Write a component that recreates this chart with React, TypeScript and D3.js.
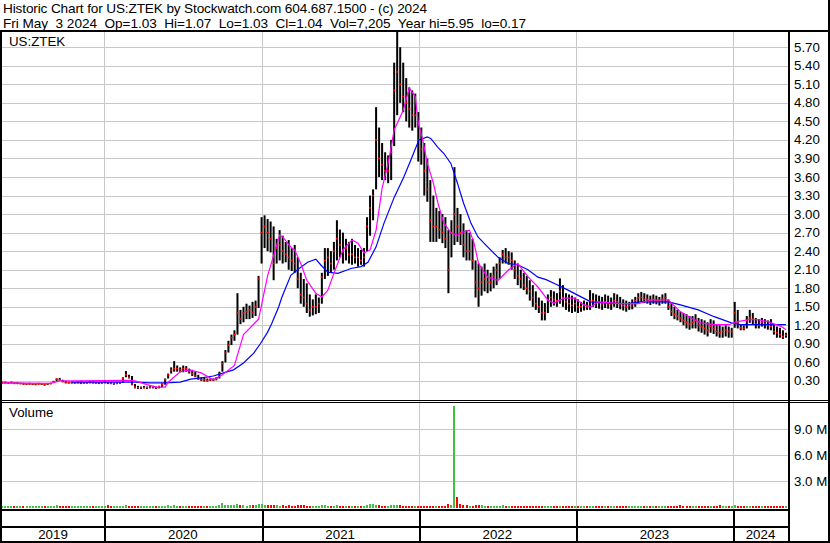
import React from 'react';
import * as d3 from 'd3';

const W = 830;
const H = 543;

// weekly bars, first week ending 2019-05-10, last 2024-05-03
const firstWeek = '2019-05-10';

const priceHigh = [
  0.29,0.29,0.28,0.29,0.28,0.28,0.27,0.27,0.26,0.27,
  0.26,0.26,0.27,0.26,0.25,0.26,0.27,0.30,0.34,0.35,
  0.32,0.30,0.29,0.29,0.28,0.29,0.29,0.28,0.28,0.29,
  0.29,0.28,0.28,0.28,0.29,0.28,0.28,0.27,0.28,0.28,
  0.36,0.46,0.40,0.38,0.25,0.22,0.21,0.22,0.21,0.22,
  0.22,0.21,0.22,0.26,0.34,0.42,0.52,0.62,0.55,0.52,
  0.55,0.54,0.50,0.48,0.45,0.40,0.36,0.35,0.34,0.34,
  0.34,0.36,0.45,0.62,0.80,0.95,1.05,1.12,1.72,1.45,
  1.50,1.55,1.52,1.58,1.60,2.00,2.95,2.98,2.92,2.88,
  2.80,2.60,2.74,2.65,2.55,2.58,2.45,2.50,2.30,2.05,
  1.95,1.88,1.70,1.62,1.70,1.65,2.05,2.45,2.45,2.40,
  2.55,2.90,2.75,2.70,2.60,2.55,2.60,2.50,2.45,2.42,
  2.45,2.95,3.30,3.40,4.73,4.40,4.15,4.00,3.95,4.20,
  5.45,5.95,5.70,5.45,5.20,5.05,5.00,4.95,4.65,4.40,
  4.15,3.90,3.55,3.30,3.10,3.05,3.00,2.95,2.74,2.90,
  3.76,3.10,3.00,2.85,2.74,2.70,2.60,2.25,2.20,2.15,
  2.20,2.10,2.05,2.15,2.20,2.30,2.42,2.45,2.40,2.38,
  2.25,2.20,2.10,2.05,2.00,1.93,1.85,1.75,1.65,1.60,
  1.56,1.70,1.77,1.75,1.72,1.96,1.85,1.72,1.70,1.68,
  1.65,1.62,1.58,1.60,1.58,1.77,1.72,1.70,1.68,1.66,
  1.70,1.68,1.65,1.72,1.70,1.66,1.62,1.60,1.58,1.62,
  1.66,1.72,1.74,1.72,1.70,1.68,1.70,1.68,1.66,1.70,
  1.72,1.62,1.56,1.50,1.45,1.42,1.40,1.38,1.35,1.35,
  1.38,1.32,1.30,1.28,1.25,1.30,1.28,1.22,1.20,1.18,
  1.20,1.18,1.16,1.58,1.45,1.22,1.20,1.35,1.45,1.40,
  1.32,1.30,1.32,1.30,1.28,1.30,1.22,1.18,1.16,1.12,1.08,
];

const priceLow = [
  0.26,0.26,0.26,0.26,0.25,0.25,0.25,0.24,0.24,0.24,
  0.24,0.23,0.24,0.24,0.23,0.24,0.25,0.27,0.30,0.31,
  0.28,0.26,0.26,0.26,0.26,0.26,0.25,0.26,0.26,0.26,
  0.26,0.26,0.25,0.26,0.26,0.25,0.25,0.24,0.25,0.26,
  0.27,0.36,0.34,0.23,0.18,0.17,0.17,0.18,0.17,0.18,
  0.18,0.17,0.18,0.20,0.24,0.34,0.42,0.45,0.45,0.44,
  0.44,0.45,0.42,0.38,0.36,0.32,0.30,0.29,0.29,0.30,
  0.30,0.31,0.34,0.45,0.60,0.76,0.88,0.95,1.05,1.22,
  1.25,1.30,1.30,1.32,1.35,1.48,2.20,2.45,2.40,2.38,
  1.93,2.20,2.25,2.20,2.22,2.10,2.08,2.05,1.80,1.55,
  1.50,1.40,1.34,1.36,1.38,1.40,1.55,1.95,2.00,2.05,
  2.10,2.25,2.30,2.20,2.25,2.20,2.18,2.20,2.15,2.18,
  2.15,2.40,2.65,2.90,3.40,3.60,3.55,3.55,3.50,3.55,
  4.10,4.60,4.80,4.65,4.50,4.40,4.35,4.40,3.85,3.80,
  3.30,3.20,2.55,2.55,2.55,2.60,2.53,2.45,1.72,2.30,
  2.50,2.55,2.50,2.30,2.25,2.25,2.10,1.65,1.50,1.68,
  1.75,1.72,1.75,1.80,1.85,1.95,2.20,2.20,2.18,2.10,
  1.95,1.85,1.80,1.77,1.70,1.60,1.50,1.45,1.40,1.28,
  1.28,1.40,1.50,1.52,1.50,1.55,1.50,1.45,1.42,1.40,
  1.42,1.40,1.42,1.44,1.45,1.45,1.50,1.48,1.47,1.45,
  1.48,1.47,1.45,1.50,1.48,1.46,1.44,1.42,1.45,1.46,
  1.50,1.55,1.58,1.56,1.55,1.53,1.55,1.54,1.52,1.55,
  1.55,1.45,1.35,1.30,1.28,1.25,1.20,1.15,1.13,1.15,
  1.15,1.10,1.08,1.05,1.02,1.08,1.06,1.02,1.00,1.00,
  1.02,1.00,1.00,1.16,1.15,1.12,1.12,1.15,1.24,1.22,
  1.15,1.15,1.18,1.15,1.13,1.12,1.05,1.00,1.00,0.98,1.00,
];

const priceClose = [
  0.27,0.27,0.27,0.27,0.26,0.26,0.26,0.25,0.25,0.25,
  0.25,0.25,0.25,0.25,0.24,0.25,0.26,0.29,0.33,0.32,
  0.29,0.28,0.27,0.27,0.27,0.27,0.27,0.27,0.27,0.28,
  0.27,0.27,0.27,0.27,0.28,0.27,0.26,0.26,0.26,0.27,
  0.34,0.40,0.36,0.25,0.20,0.19,0.19,0.19,0.19,0.20,
  0.20,0.19,0.21,0.24,0.32,0.40,0.48,0.50,0.50,0.48,
  0.50,0.50,0.45,0.42,0.38,0.34,0.32,0.32,0.31,0.32,
  0.32,0.34,0.42,0.58,0.75,0.88,1.00,1.05,1.40,1.30,
  1.40,1.42,1.45,1.40,1.50,1.95,2.70,2.80,2.70,2.60,
  2.20,2.45,2.50,2.40,2.35,2.30,2.25,2.20,1.95,1.70,
  1.65,1.55,1.45,1.50,1.50,1.55,1.98,2.25,2.30,2.20,
  2.40,2.60,2.50,2.40,2.45,2.35,2.35,2.30,2.30,2.25,
  2.30,2.80,3.10,3.30,4.20,3.90,3.80,3.70,3.70,4.00,
  5.00,5.30,5.10,4.90,4.80,4.70,4.60,4.60,4.20,4.05,
  3.70,3.40,2.90,2.80,2.80,2.75,2.70,2.60,2.10,2.70,
  3.00,2.80,2.70,2.50,2.40,2.40,2.25,1.90,1.80,1.90,
  1.95,1.90,1.90,2.00,2.10,2.20,2.35,2.30,2.30,2.25,
  2.10,2.00,1.95,1.85,1.80,1.75,1.65,1.55,1.50,1.40,
  1.40,1.60,1.65,1.62,1.60,1.75,1.65,1.58,1.55,1.52,
  1.55,1.50,1.50,1.52,1.50,1.60,1.60,1.58,1.57,1.55,
  1.58,1.55,1.55,1.60,1.58,1.55,1.52,1.50,1.52,1.55,
  1.60,1.65,1.65,1.62,1.62,1.60,1.62,1.60,1.60,1.62,
  1.65,1.50,1.42,1.38,1.35,1.32,1.28,1.25,1.22,1.25,
  1.28,1.20,1.18,1.15,1.12,1.18,1.15,1.10,1.08,1.10,
  1.12,1.10,1.10,1.40,1.25,1.16,1.15,1.28,1.32,1.30,
  1.22,1.20,1.25,1.22,1.20,1.18,1.10,1.08,1.05,1.02,1.04,
];

// weekly volume in millions of shares
const volumeM = [
  0.10,0.12,0.08,0.10,0.15,0.10,0.08,0.12,0.10,0.09,
  0.10,0.08,0.12,0.10,0.09,0.10,0.12,0.15,0.20,0.14,
  0.12,0.10,0.08,0.10,0.09,0.11,0.10,0.08,0.09,0.10,
  0.10,0.09,0.08,0.12,0.10,0.18,0.10,0.08,0.09,0.10,
  0.15,0.22,0.14,0.12,0.10,0.08,0.09,0.10,0.08,0.09,
  0.10,0.08,0.09,0.12,0.15,0.18,0.14,0.20,0.12,0.14,
  0.12,0.10,0.12,0.10,0.09,0.10,0.08,0.09,0.10,0.09,
  0.10,0.12,0.18,0.45,0.20,0.25,0.28,0.22,0.30,0.18,
  0.20,0.16,0.18,0.25,0.22,0.35,0.40,0.22,0.20,0.18,
  0.25,0.18,0.16,0.20,0.15,0.18,0.15,0.14,0.20,0.22,
  0.18,0.16,0.14,0.12,0.15,0.14,0.20,0.18,0.16,0.14,
  0.15,0.20,0.16,0.14,0.12,0.14,0.12,0.13,0.12,0.14,
  0.15,0.25,0.30,0.35,0.28,0.20,0.16,0.15,0.14,0.18,
  0.25,0.22,0.18,0.16,0.15,0.14,0.12,0.13,0.15,0.14,
  0.16,0.14,0.15,0.12,0.14,0.15,0.14,0.16,0.35,0.20,
  11.7,1.15,0.35,0.25,0.18,0.15,0.16,0.22,0.25,0.18,
  0.15,0.14,0.12,0.13,0.12,0.14,0.18,0.15,0.14,0.12,
  0.12,0.11,0.10,0.12,0.10,0.11,0.12,0.10,0.12,0.14,
  0.12,0.10,0.11,0.10,0.12,0.14,0.10,0.09,0.10,0.11,
  0.10,0.09,0.10,0.11,0.10,0.12,0.10,0.09,0.10,0.09,
  0.10,0.09,0.10,0.11,0.10,0.09,0.10,0.08,0.09,0.10,
  0.10,0.11,0.10,0.09,0.10,0.09,0.10,0.11,0.10,0.09,
  0.10,0.12,0.10,0.11,0.10,0.18,0.10,0.09,0.10,0.11,
  0.10,0.09,0.10,0.11,0.12,0.10,0.09,0.10,0.22,0.10,
  0.10,0.09,0.10,0.20,0.12,0.10,0.09,0.11,0.10,0.10,
  0.09,0.10,0.11,0.10,0.09,0.10,0.08,0.09,0.10,0.09,0.08,
];

// short moving average (magenta), read at week indices
const maFastWeek = [0,16,19,23,42,44,48,51,54,55,59,62,66,70,73,77,80,84,85,88,92,93,96,97,99,101,104,106,108,110,113,116,118,120,122,124,126,128,130,133,135,137,138,139.5,141,143,144.5,146.5,149,151,153,155,156.5,158,161,164.5,168,171,174.5,177.7,181,183,186.4,189.7,193,195.3,197.7,205,211,215,221,222,225,228.6,231.6,236,241,244,247.5,250.8,254,258.5,260];
const maFastVal = [0.27,0.26,0.30,0.30,0.31,0.30,0.24,0.20,0.20,0.28,0.45,0.48,0.43,0.32,0.40,0.55,1.05,1.25,1.30,2.0,2.66,2.63,2.45,2.42,2.2,1.93,1.72,1.66,1.77,2.04,2.42,2.58,2.53,2.37,2.42,2.74,3.42,3.82,4.36,4.68,5.04,4.9,4.47,4.2,3.82,3.5,3.18,2.85,2.69,2.66,2.71,2.74,2.53,2.2,1.98,1.93,2.1,2.2,1.98,1.82,1.61,1.56,1.64,1.64,1.53,1.5,1.58,1.55,1.55,1.61,1.61,1.56,1.42,1.32,1.24,1.21,1.21,1.26,1.29,1.29,1.26,1.18,1.13];

// long moving average (blue), read at week indices
const maSlowWeek = [23,44,49,54,59,62.5,66,70,73.4,76.7,80,83.4,85.7,88,89.3,91.7,92.7,95.7,99,101.3,104,105.6,108,111.3,114.6,115.6,119,121.3,124,126.6,130,133.2,135.5,138.2,141,142.2,144.5,146.5,148.8,151,153,155.5,157.8,161,164.5,167.8,171,174.4,177.7,180.4,183,187.7,192,195.3,201,207.6,212,221,225,230.9,236.2,241.9,245.2,260];
const maSlowVal = [0.28,0.28,0.27,0.27,0.28,0.33,0.35,0.38,0.43,0.48,0.59,0.75,0.91,1.09,1.22,1.5,1.65,2.01,2.14,2.22,2.27,2.18,2.06,2.04,2.1,2.12,2.15,2.22,2.47,2.85,3.27,3.6,3.87,4.2,4.25,4.22,4.08,3.98,3.82,3.5,3.18,2.85,2.63,2.47,2.3,2.2,2.18,2.1,1.98,1.94,1.88,1.77,1.66,1.58,1.56,1.55,1.58,1.58,1.53,1.45,1.34,1.24,1.21,1.21];

const priceTicks = [0.3,0.6,0.9,1.2,1.5,1.8,2.1,2.4,2.7,3.0,3.3,3.6,3.9,4.2,4.5,4.8,5.1,5.4,5.7];
const volumeTicks = [3, 6, 9];
const volumeTickLabels = ['3.0 M', '6.0 M', '9.0 M'];
const yearBoundaries = ['2020-01-01', '2021-01-01', '2022-01-01', '2023-01-01', '2024-01-01'];
const yearLabels = ['2019', '2020', '2021', '2022', '2023', '2024'];

const titleLine1 = 'Historic Chart for US:ZTEK by Stockwatch.com 604.687.1500 - (c) 2024';
const titleLine2 = 'Fri May  3 2024  Op=1.03  Hi=1.07  Lo=1.03  Cl=1.04  Vol=7,205  Year hi=5.95  lo=0.17';
const symbolLabel = 'US:ZTEK';
const volumeLabel = 'Volume';

const FONT = '"Liberation Sans", Arial, Helvetica, sans-serif';
const FS = 13.3;

export default function App() {
  const plotLeft = 2;
  const plotRight = 788;
  const priceTop = 33;
  const priceBottom = 399.5;
  const volTop = 403;
  const volBottom = 507;

  const x = d3.scaleUtc()
    .domain([new Date('2020-01-01T00:00:00Z'), new Date('2024-01-01T00:00:00Z')])
    .range([104, 733]);
  const y = d3.scaleLinear().domain([0, 5.93]).range([priceBottom, priceTop]);
  const yv = d3.scaleLinear().domain([0, 12]).range([volBottom, volTop]);

  const t0 = new Date(firstWeek + 'T00:00:00Z').getTime();
  const weekDate = (i: number) => new Date(t0 + i * 7 * 86400000);

  const fastPts: [number, number][] = maFastWeek.map((w, k) => [w, maFastVal[k]]);
  const slowPts: [number, number][] = maSlowWeek.map((w, k) => [w, maSlowVal[k]]);
  const maLine = d3.line<[number, number]>()
    .x(d => x(weekDate(d[0])))
    .y(d => y(d[1]));

  const bounds = yearBoundaries.map(d => x(new Date(d + 'T00:00:00Z')));
  const edges = [plotLeft, ...bounds, plotRight];

  const grid = '#c8c8c8';

  return (
    <div style={{ position: 'absolute', left: 0, top: 0 }}>
      <svg width={W} height={H} style={{ display: 'block', background: '#fff' }} fontFamily={FONT}>
        <rect x={0} y={0} width={W} height={H} fill="#fff" />
        {/* title */}
        <text x={3} y={13} fontSize={13.6} fill="#000" xmlSpace="preserve" textLength={424} lengthAdjust="spacing">{titleLine1}</text>
        <text x={3} y={27.5} fontSize={13.6} fill="#000" xmlSpace="preserve" textLength={523} lengthAdjust="spacing">{titleLine2}</text>

        {/* grid */}
        <g shapeRendering="crispEdges">
          {priceTicks.map(t => (
            <line key={'pg' + t} x1={plotLeft} x2={plotRight} y1={Math.round(y(t)) + 0.5} y2={Math.round(y(t)) + 0.5} stroke={grid} />
          ))}
          {volumeTicks.map(t => (
            <line key={'vg' + t} x1={plotLeft} x2={plotRight} y1={Math.round(yv(t)) + 0.5} y2={Math.round(yv(t)) + 0.5} stroke={grid} />
          ))}
          {bounds.map((b, k) => (
            <line key={'vgr' + k} x1={Math.round(b) + 0.5} x2={Math.round(b) + 0.5} y1={32} y2={510} stroke={grid} />
          ))}
        </g>

        {/* price bars */}
        <g>
          {priceHigh.map((h, i) => {
            const cx = x(weekDate(i));
            const top = y(h);
            const bot = y(priceLow[i]);
            return <rect key={'b' + i} x={cx - 1} y={top} width={2} height={Math.max(1.5, bot - top)} fill="#000" />;
          })}
          {priceClose.map((c, i) => {
            const cx = x(weekDate(i));
            return <rect key={'c' + i} x={cx - 1} y={y(c) - 0.75} width={2} height={1.5} fill="#ff0000" />;
          })}
        </g>

        {/* moving averages */}
        <path d={maLine(slowPts) || ''} fill="none" stroke="#0000ff" strokeWidth={1.2} />
        <path d={maLine(fastPts) || ''} fill="none" stroke="#ff00ff" strokeWidth={1.2} />

        {/* volume bars */}
        <g shapeRendering="crispEdges">
          {volumeM.map((v, i) => {
            const cx = x(weekDate(i));
            const up = i === 0 ? true : priceClose[i] >= priceClose[i - 1];
            const top = yv(v);
            return <rect key={'v' + i} x={Math.round(cx) - 1} y={top} width={2} height={volBottom + 1 - top} fill={up ? '#40c040' : '#ff0000'} />;
          })}
        </g>

        {/* frame lines */}
        <g shapeRendering="crispEdges" stroke="#000">
          <line x1={0} x2={W} y1={30.5} y2={30.5} strokeWidth={2} />
          <line x1={0} x2={W} y1={31.5} y2={31.5} strokeWidth={1} />
          <line x1={0} x2={W} y1={400.5} y2={400.5} />
          <line x1={0} x2={W} y1={402.5} y2={402.5} />
          <line x1={0} x2={plotRight + 1} y1={510} y2={510} strokeWidth={2} />
          <line x1={0} x2={plotRight + 1} y1={527} y2={527} strokeWidth={2} />
          <line x1={0} x2={W} y1={542} y2={542} strokeWidth={2} />
          <line x1={1} x2={1} y1={30} y2={H} strokeWidth={2} />
          <line x1={W - 1} x2={W - 1} y1={0} y2={H} strokeWidth={2} />
          <line x1={plotRight + 1} x2={plotRight + 1} y1={30} y2={H} strokeWidth={2} />
          {bounds.map((b, k) => (
            <line key={'yb' + k} x1={Math.round(b) + 0.5} x2={Math.round(b) + 0.5} y1={510} y2={H} strokeWidth={2} />
          ))}
        </g>

        {/* labels */}
        <text x={9} y={45.5} fontSize={FS} fill="#000">{symbolLabel}</text>
        <text x={9} y={417} fontSize={FS} fill="#000">{volumeLabel}</text>
        {priceTicks.map(t => (
          <text key={'pl' + t} x={794} y={y(t) + 4.5} fontSize={FS} fill="#000">{t.toFixed(2)}</text>
        ))}
        {volumeTicks.map((t, k) => (
          <text key={'vl' + t} x={794} y={yv(t) + 4.5} fontSize={FS} fill="#000">{volumeTickLabels[k]}</text>
        ))}
        {yearLabels.map((lab, k) => (
          <text key={'yl' + lab} x={(edges[k] + edges[k + 1]) / 2} y={539} fontSize={FS} textAnchor="middle" fill="#000">{lab}</text>
        ))}
      </svg>
    </div>
  );
}
